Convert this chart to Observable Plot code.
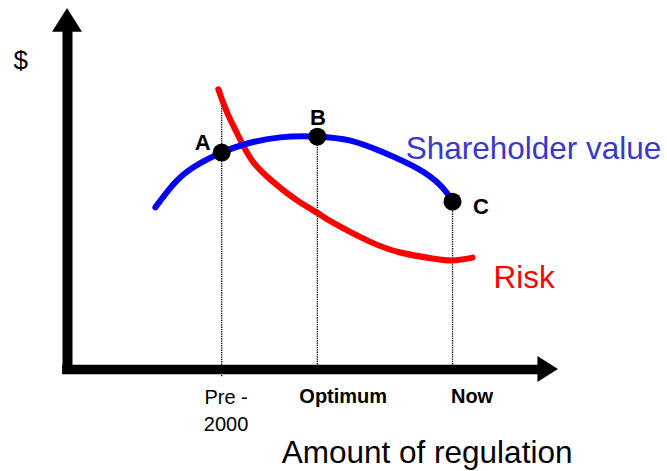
<!DOCTYPE html>
<html>
<head>
<meta charset="utf-8">
<script src="https://cdn.jsdelivr.net/npm/d3@7"></script>
<script src="https://cdn.jsdelivr.net/npm/@observablehq/plot@0.6"></script>
<style>
  html, body { margin: 0; padding: 0; background: #fff; }
  #chart svg { display: block; }
</style>
</head>
<body>
<div id="chart"></div>
<script>
// Conceptual units: x = amount of regulation (0..100), y = $ (0..100)

// Shareholder value curve
const valueX = [18.0, 21.5, 25.8, 31.6, 36.9, 43.6, 51.2, 58.0, 64.8, 71.7, 76.4, 78.9, 79.6];
const valueY = [44.9, 51.0, 56.0, 60.1, 62.6, 64.3, 64.5, 63.4, 60.1, 55.7, 51.0, 46.8, 45.6];

// Risk curve
const riskX = [30.9, 32.8, 35.5, 38.1, 42.2, 47.1, 51.2, 54.5, 61.5, 68.2, 75.0, 78.9, 83.0];
const riskY = [77.6, 70.9, 63.4, 57.4, 51.9, 46.8, 43.4, 40.6, 35.7, 32.4, 30.7, 30.2, 31.0];

// Marked points A, B, C
const pointNames = ["A", "B", "C"];
const pointX = [31.6, 51.2, 78.9];
const pointY = [60.1, 64.5, 46.5];
const pointLabelX = [27.7, 51.3, 84.7];
const pointLabelY = [60.7, 67.6, 43.2];

// Guide lines (dotted) top ends
const guideTop = [77.6, 64.5, 46.5];

// Tick labels under the x axis
const tickLabels = ["Pre -\n2000", "Optimum", "Now"];
const tickLabelX = [32.5, 56.5, 82.9];
const tickBold = [false, true, true];

// Texts
const seriesLabels = ["Shareholder value", "Risk"];
const seriesLabelX = [69.3, 87.3];
const seriesLabelY = [58.4, 22.7];
const seriesTextColors = ["#3838cc", "#ff0000"];
const yAxisTitle = "$";
const xAxisTitle = "Amount of regulation";

// Axis extents (arrows)
const axisMax = 100;

const font = "'Liberation Sans', Arial, Helvetica, sans-serif";

const valueData = valueX.map((x, i) => ({x, y: valueY[i]}));
const riskData = riskX.map((x, i) => ({x, y: riskY[i]}));
const points = pointNames.map((name, i) => ({name, x: pointX[i], y: pointY[i], lx: pointLabelX[i], ly: pointLabelY[i], top: guideTop[i]}));
const ticks = tickLabels.map((label, i) => ({label, x: tickLabelX[i], bold: tickBold[i]}));
const series = seriesLabels.map((label, i) => ({label, x: seriesLabelX[i], y: seriesLabelY[i], color: seriesTextColors[i]}));

// Arrowhead triangles derived from axis extents
const headLen = 6.6;
const vHeadHalf = 3.07;
const hHeadHalf = 3.6;
const vHead = [{y: axisMax - headLen, x1: -vHeadHalf, x2: vHeadHalf}, {y: axisMax, x1: 0, x2: 0}];
const hHead = [{x: axisMax - 3.6, y1: -hHeadHalf, y2: hHeadHalf}, {x: axisMax + 0.6, y1: 0, y2: 0}];

const chart = Plot.plot({
  width: 667,
  height: 471,
  margin: 0,
  style: {fontFamily: font, background: "#fff", overflow: "visible"},
  x: {domain: [0, 100], range: [67, 555], axis: null},
  y: {domain: [0, 100], range: [369, 8], axis: null},
  marks: [
    Plot.ruleX(points, {x: "x", y1: (d, i) => i === 0 ? -2 : 0, y2: "top", stroke: "#000", strokeWidth: 1.3, strokeDasharray: "1.3,1"}),
    Plot.line(riskData, {x: "x", y: "y", stroke: "#ff0000", strokeWidth: 6, curve: "natural"}),
    Plot.line(valueData, {x: "x", y: "y", stroke: "#0000ff", strokeWidth: 6, curve: "natural"}),
    Plot.ruleX([0], {y1: -1.4, y2: axisMax - headLen + 0.3, stroke: "#000", strokeWidth: 10}),
    Plot.ruleY([0], {x1: -1, x2: axisMax - 3.4, stroke: "#000", strokeWidth: 9.5}),
    Plot.areaX(vHead, {y: "y", x1: "x1", x2: "x2", fill: "#000"}),
    Plot.areaY(hHead, {x: "x", y1: "y1", y2: "y2", fill: "#000"}),
    Plot.dot(points, {x: "x", y: "y", r: 9, fill: "#000"}),
    Plot.text(points, {x: "lx", y: "ly", text: "name", fontSize: 22, fontWeight: "bold", fill: "#000", lineAnchor: "bottom", textAnchor: "middle"}),
    Plot.text(series, {x: "x", y: "y", text: "label", fill: "color", fontSize: 31.5, textAnchor: "start", lineAnchor: "bottom"}),
    Plot.text(ticks.filter(d => !d.bold), {x: "x", y: -16.9, text: "label", fontSize: 20, textAnchor: "middle", lineAnchor: "bottom", lineHeight: 1.35, fill: "#000"}),
    Plot.text(ticks.filter(d => d.bold), {x: "x", y: -9.4, text: "label", fontSize: 20, fontWeight: "bold", textAnchor: "middle", lineAnchor: "bottom", fill: "#000"}),
    Plot.text([yAxisTitle], {x: -9.6, y: 85.6, text: d => d, fontSize: 26, textAnchor: "middle", lineAnchor: "middle", fill: "#000"}),
    Plot.text([xAxisTitle], {x: 43.9, y: -26.0, text: d => d, fontSize: 31.5, textAnchor: "start", lineAnchor: "bottom", fill: "#000"})
  ]
});

document.getElementById("chart").appendChild(chart);
</script>
</body>
</html>
